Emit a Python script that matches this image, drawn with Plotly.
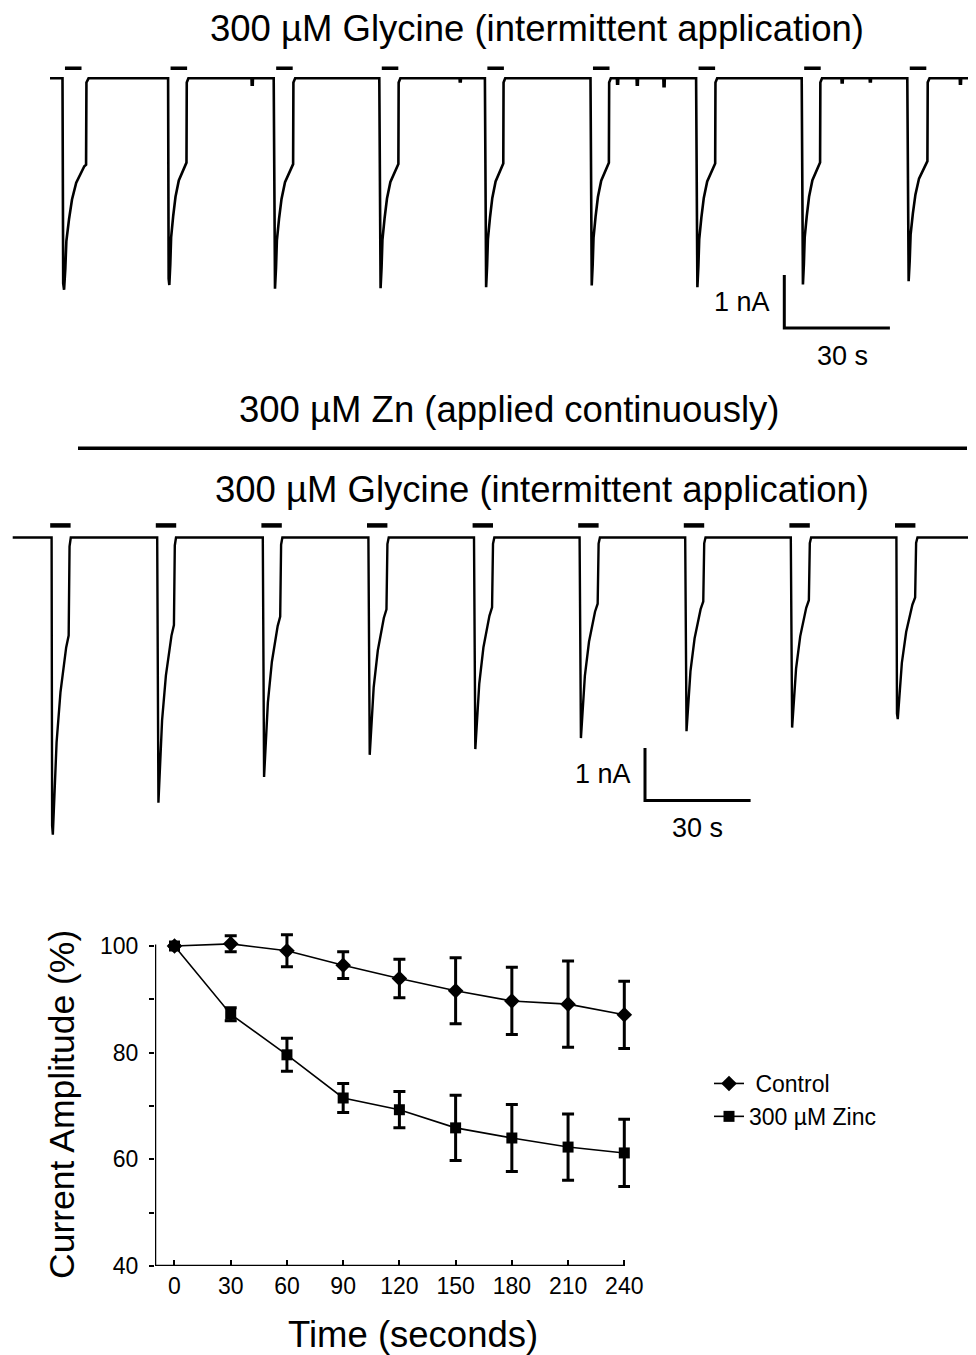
import plotly.graph_objects as go

W, H = 976, 1355
OFF = 8  # the page body offsets the figure by 8 px; positions below are screen pixels
FONT = "Liberation Sans, Arial, Helvetica, sans-serif"

# ---------------- summary chart data ----------------
time_s = [0, 30, 60, 90, 120, 150, 180, 210, 240]
control_mean = [100.0, 100.4, 99.1, 96.4, 93.9, 91.6, 89.7, 89.1, 87.1]
control_err = [0.0, 1.5, 3.0, 2.5, 3.6, 6.2, 6.3, 8.1, 6.3]
zinc_mean = [100.0, 87.2, 79.6, 71.5, 69.3, 65.9, 64.0, 62.3, 61.2]
zinc_err = [0.0, 1.2, 3.1, 2.7, 3.4, 6.1, 6.3, 6.2, 6.3]
x_ticks = [0, 30, 60, 90, 120, 150, 180, 210, 240]
y_ticks = [40, 50, 60, 70, 80, 90, 100]
y_ticklabels = ["40", "", "60", "", "80", "", "100"]

# ---------------- current traces data ----------------
sweep_onsets_s = [0, 30, 60, 90, 120, 150, 180, 210, 240]
glycine_peaks_nA = [3.99, 3.90, 3.97, 3.96, 3.94, 3.91, 3.94, 3.89, 3.83]
glycine_durations_s = [6.8, 5.3, 5.6, 5.5, 5.3, 5.3, 5.5, 5.3, 5.8]
zinc_peaks_nA = [5.66, 5.05, 4.56, 4.14, 4.03, 3.82, 3.69, 3.62, 3.46]
zinc_durations_s = [5.1, 5.0, 5.2, 5.4, 5.4, 5.4, 5.4, 5.4, 5.6]
# response shape (time after onset, fraction of peak)
top_shape_t = [0, 0.2, 0.45, 0.8, 1.1, 1.85, 2.7, 3.9, 5.3, 6.2, 6.7, 6.8, 7.4]
top_shape_f = [0, 0.97, 1.0, 0.9, 0.77, 0.667, 0.573, 0.494, 0.447, 0.416, 0.408, 0.02, 0]
zn_shape_t = [0, 0.15, 0.35, 1.4, 2.5, 4.1, 4.8, 5.05, 5.4]
zn_shape_f = [0, 0.97, 1.0, 0.69, 0.52, 0.37, 0.33, 0.03, 0]
# small baseline artefacts in the top recording (time s, depth nA)
top_blip_t = [53.7, 112.8, 157.5, 163.1, 170.7, 221.3, 229.3, 254.9]
top_blip_d = [0.12, 0.06, 0.10, 0.12, 0.15, 0.08, 0.06, 0.10]

# ---------------- layout geometry (screen pixels) ----------------
PX_PER_S = 3.52
TOP_ONSET_PX, TOP_BASE_PX, TOP_PX_PER_NA = 62.5, 78.3, 53.0
BOT_ONSET_PX, BOT_BASE_PX, BOT_PX_PER_NA = 51.6, 537.5, 52.5


def pxx(px):
    return (px - OFF) / W


def pxy(py):
    return 1 - (py - OFF) / H


def build_trace(onsets, peaks, durs, sh_t, sh_f, t0, t1, blips=()):
    pts = [(t0, 0.0)]
    jump = sh_t[-2]
    for on, pk, du in zip(onsets, peaks, durs):
        k = du / jump
        for st, sf in zip(sh_t, sh_f):
            pts.append((on + st * k, -pk * sf))
    for bt, bd in blips:
        pts += [(bt, 0.0), (bt + 0.05, -bd), (bt + 0.35, -bd), (bt + 0.4, 0.0)]
    pts.append((t1, 0.0))
    pts.sort(key=lambda p: p[0])
    return [p[0] for p in pts], [p[1] for p in pts]


fig = go.Figure()

# ---- top panel (control) ----
t0 = (50 - TOP_ONSET_PX) / PX_PER_S
t1 = (968 - TOP_ONSET_PX) / PX_PER_S
tx, ty = build_trace(sweep_onsets_s, glycine_peaks_nA, glycine_durations_s,
                     top_shape_t, top_shape_f, t0, t1, list(zip(top_blip_t, top_blip_d)))
fig.add_trace(go.Scatter(x=tx, y=ty, mode="lines", line=dict(color="black", width=2.6),
                         xaxis="x", yaxis="y", showlegend=False, hoverinfo="skip"))
bx, by = [], []
for on in sweep_onsets_s:
    bx += [on + 0.7, on + 5.4, None]
    by += [0.19, 0.19, None]
fig.add_trace(go.Scatter(x=bx, y=by, mode="lines", line=dict(color="black", width=3.5),
                         xaxis="x", yaxis="y", showlegend=False, hoverinfo="skip"))
top_bar_t = (784.3 - TOP_ONSET_PX) / PX_PER_S
top_bar_y0 = (TOP_BASE_PX - 275) / TOP_PX_PER_NA
fig.add_trace(go.Scatter(x=[top_bar_t, top_bar_t, top_bar_t + 30],
                         y=[top_bar_y0, top_bar_y0 - 1, top_bar_y0 - 1], mode="lines",
                         line=dict(color="black", width=3), xaxis="x", yaxis="y",
                         showlegend=False, hoverinfo="skip"))

# ---- bottom panel (zinc) ----
u0 = (12.7 - BOT_ONSET_PX) / PX_PER_S
u1 = (968 - BOT_ONSET_PX) / PX_PER_S
zx, zy = build_trace(sweep_onsets_s, zinc_peaks_nA, zinc_durations_s,
                     zn_shape_t, zn_shape_f, u0, u1)
fig.add_trace(go.Scatter(x=zx, y=zy, mode="lines", line=dict(color="black", width=2.4),
                         xaxis="x2", yaxis="y2", showlegend=False, hoverinfo="skip"))
bx, by = [], []
for on in sweep_onsets_s:
    bx += [on - 0.4, on + 5.4, None]
    by += [0.23, 0.23, None]
fig.add_trace(go.Scatter(x=bx, y=by, mode="lines", line=dict(color="black", width=4.5),
                         xaxis="x2", yaxis="y2", showlegend=False, hoverinfo="skip"))
zn_start = (78 - BOT_ONSET_PX) / PX_PER_S
zn_end = (967 - BOT_ONSET_PX) / PX_PER_S
fig.add_trace(go.Scatter(x=[zn_start, zn_end], y=[1.70, 1.70], mode="lines",
                         line=dict(color="black", width=3.5), xaxis="x2", yaxis="y2",
                         showlegend=False, hoverinfo="skip"))
bot_bar_t = (645 - BOT_ONSET_PX) / PX_PER_S
bot_bar_y0 = (BOT_BASE_PX - 748) / BOT_PX_PER_NA
fig.add_trace(go.Scatter(x=[bot_bar_t, bot_bar_t, bot_bar_t + 30],
                         y=[bot_bar_y0, bot_bar_y0 - 1, bot_bar_y0 - 1], mode="lines",
                         line=dict(color="black", width=3), xaxis="x2", yaxis="y2",
                         showlegend=False, hoverinfo="skip"))

# ---- summary chart ----
fig.add_trace(go.Scatter(x=time_s, y=control_mean, name=" Control", mode="lines+markers",
                         line=dict(color="black", width=1.6),
                         marker=dict(symbol="diamond", size=12, color="black"),
                         error_y=dict(type="data", array=control_err, visible=True,
                                      color="black", thickness=3, width=6),
                         xaxis="x3", yaxis="y3", cliponaxis=False))
fig.add_trace(go.Scatter(x=time_s, y=zinc_mean, name="300 µM Zinc", mode="lines+markers",
                         line=dict(color="black", width=1.6),
                         marker=dict(symbol="square", size=11, color="black"),
                         error_y=dict(type="data", array=zinc_err, visible=True,
                                      color="black", thickness=3, width=6),
                         xaxis="x3", yaxis="y3", cliponaxis=False))

hidden = dict(visible=False, showgrid=False, zeroline=False, fixedrange=True, automargin=False)

ann = []
def txt(text, x, y, size, xref="paper", yref="paper", xanchor="center", yanchor="middle",
        xshift=0, yshift=0, angle=0):
    ann.append(dict(text=text, x=x, y=y, xref=xref, yref=yref, xanchor=xanchor,
                    yanchor=yanchor, showarrow=False, xshift=xshift, yshift=yshift,
                    textangle=angle, font=dict(family=FONT, size=size, color="black")))

txt("300 µM Glycine (intermittent application)", pxx(537), pxy(28), 36.5)
txt("300 µM Zn (applied continuously)", pxx(509), pxy(410), 36.5)
txt("300 µM Glycine (intermittent application)", pxx(542), pxy(489), 36.5)
txt("1 nA", top_bar_t, top_bar_y0 - 0.5, 27, "x", "y", xanchor="right", xshift=-12)
txt("30 s", top_bar_t + 15, top_bar_y0 - 1, 27, "x", "y", xshift=5, yshift=-28)
txt("1 nA", bot_bar_t, bot_bar_y0 - 0.5, 27, "x2", "y2", xanchor="right", xshift=-12)
txt("30 s", bot_bar_t + 15, bot_bar_y0 - 1, 27, "x2", "y2", yshift=-27)
txt("Current Amplitude (%)", pxx(62), pxy(1105), 35.5, angle=-90)
txt("Time (seconds)", pxx(413), pxy(1334), 36.5)

# chart plot area: x in [-10.4, 240] spans 155..624.3 px, y in [40, 100] spans 1266..946 px
X_LO, X_HI, Y_LO, Y_HI = -10.4, 243.0, 40.0, 103.0
px_per_x = (624.3 - 155) / (240 - X_LO)
px_per_y = (1266 - 946) / (100 - Y_LO)
x3_right = 155 + (X_HI - X_LO) * px_per_x
y3_top = 1266 - (Y_HI - Y_LO) * px_per_y

shapes = [
    dict(type="line", xref="x3", yref="y3", x0=X_LO, x1=240, y0=Y_LO, y1=Y_LO,
         line=dict(color="black", width=2.5)),
    dict(type="line", xref="x3", yref="y3", x0=X_LO, x1=X_LO, y0=Y_LO, y1=100.3,
         line=dict(color="black", width=2.5)),
]

fig.update_layout(
    template="none",
    width=W, height=H, margin=dict(l=0, r=0, t=0, b=0, pad=0, autoexpand=False),
    paper_bgcolor="white", plot_bgcolor="rgba(0,0,0,0)",
    font=dict(family=FONT, color="black"),
    xaxis=dict(domain=[0, 1], range=[(OFF - TOP_ONSET_PX) / PX_PER_S,
                                     (W + OFF - TOP_ONSET_PX) / PX_PER_S], **hidden),
    yaxis=dict(domain=[0, 1], range=[(TOP_BASE_PX - OFF - H) / TOP_PX_PER_NA,
                                     (TOP_BASE_PX - OFF) / TOP_PX_PER_NA], anchor="x", **hidden),
    xaxis2=dict(domain=[0, 1], range=[(OFF - BOT_ONSET_PX) / PX_PER_S,
                                      (W + OFF - BOT_ONSET_PX) / PX_PER_S], anchor="y2", **hidden),
    yaxis2=dict(domain=[0, 1], range=[(BOT_BASE_PX - OFF - H) / BOT_PX_PER_NA,
                                      (BOT_BASE_PX - OFF) / BOT_PX_PER_NA], anchor="x2", **hidden),
    xaxis3=dict(domain=[pxx(155), pxx(x3_right)], range=[X_LO, X_HI], anchor="y3",
                showline=False, showgrid=False, zeroline=False, automargin=False,
                ticks="inside", ticklen=6, tickwidth=2, tickcolor="black",
                tickvals=x_ticks, ticktext=[str(v) for v in x_ticks],
                tickfont=dict(family=FONT, size=23, color="black"), ticklabelstandoff=4,
                fixedrange=True),
    yaxis3=dict(domain=[pxy(1266), pxy(y3_top)], range=[Y_LO, Y_HI], anchor="x3",
                showline=False, showgrid=False, zeroline=False, automargin=False,
                ticks="outside", ticklen=5, tickwidth=2, tickcolor="black",
                tickvals=y_ticks, ticktext=y_ticklabels,
                tickfont=dict(family=FONT, size=23, color="black"), ticklabelstandoff=6,
                fixedrange=True),
    shapes=shapes,
    showlegend=True,
    legend=dict(x=pxx(709), y=pxy(1062), xanchor="left", yanchor="top",
                bgcolor="rgba(0,0,0,0)", borderwidth=0,
                font=dict(family=FONT, size=23, color="black"),
                tracegroupgap=0, itemclick=False, itemdoubleclick=False),
    annotations=ann,
)

fig.write_html("out.html", config={"displayModeBar": False})
